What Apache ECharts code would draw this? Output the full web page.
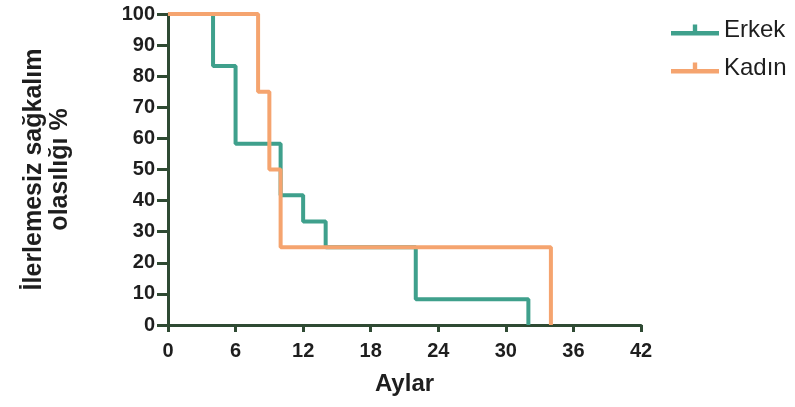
<!DOCTYPE html>
<html>
<head>
<meta charset="utf-8">
<script src="https://cdn.jsdelivr.net/npm/echarts@6/dist/echarts.min.js"></script>
<style>
  html, body { margin: 0; padding: 0; background: #fff; }
  #chart { width: 795px; height: 407px; }
</style>
</head>
<body>
<div id="chart"></div>
<script>
// Kaplan-Meier steps: [month, percent]
const erkek = [[0, 100], [4, 83.3], [6, 58.3], [10, 41.7], [12, 33.3], [14, 25], [22, 8.3], [32, 0]];
const kadin = [[0, 100], [8, 75], [9, 50], [10, 25], [34, 0]];
const seriesNames = ['Erkek', 'Kadın'];
const xTitle = 'Aylar';
const yTitle = 'İlerlemesiz sağkalım\nolasılığı %';

const axisColor = '#2f4a33';
const textColor = '#1e1e1e';
// legend icon: line with a small tick mark
const censorIcon = 'path://M0,6 H44 V10 H0 Z M20,0 H24 V10 H20 Z';

const chart = echarts.init(document.getElementById('chart'));
chart.setOption({
  animation: false,
  grid: { left: 168, right: 154, top: 14, bottom: 82, outerBoundsMode: 'none', containLabel: false },
  legend: {
    orient: 'vertical',
    left: 666,
    top: 13,
    itemGap: 14,
    itemWidth: 48,
    itemHeight: 11,
    textStyle: { fontFamily: 'Liberation Sans', fontSize: 24, color: textColor },
    data: [
      { name: seriesNames[0], icon: censorIcon },
      { name: seriesNames[1], icon: censorIcon }
    ]
  },
  xAxis: {
    type: 'value',
    min: 0, max: 42, interval: 6,
    name: xTitle,
    nameLocation: 'middle',
    nameGap: 47,
    nameTextStyle: { fontFamily: 'Liberation Sans', fontSize: 24, fontWeight: 'bold', color: textColor },
    axisLine: { show: true, lineStyle: { color: axisColor, width: 3 } },
    axisTick: { show: true, length: 7, lineStyle: { color: axisColor, width: 3 } },
    axisLabel: { margin: 16, fontFamily: 'Liberation Sans', fontSize: 20, fontWeight: 'bold', color: textColor },
    splitLine: { show: false }
  },
  yAxis: {
    type: 'value',
    min: 0, max: 100, interval: 10,
    name: yTitle,
    nameLocation: 'middle',
    nameGap: 95,
    nameRotate: 90,
    nameTextStyle: { fontFamily: 'Liberation Sans', fontSize: 25, fontWeight: 'bold', color: textColor, lineHeight: 26, align: 'center' },
    axisLine: { show: true, lineStyle: { color: axisColor, width: 3 } },
    axisTick: { show: true, length: 11, lineStyle: { color: axisColor, width: 3 } },
    axisLabel: { margin: 13, fontFamily: 'Liberation Sans', fontSize: 20, fontWeight: 'bold', color: textColor },
    splitLine: { show: false }
  },
  series: [
    {
      name: seriesNames[0],
      type: 'line',
      step: 'end',
      data: erkek,
      showSymbol: false,
      symbol: 'none',
      color: '#3fa08c',
      lineStyle: { width: 4, color: '#3fa08c' },
      z: 2
    },
    {
      name: seriesNames[1],
      type: 'line',
      step: 'end',
      data: kadin,
      showSymbol: false,
      symbol: 'none',
      color: '#f5a46f',
      lineStyle: { width: 4, color: '#f5a46f' },
      z: 3
    }
  ]
});
</script>
</body>
</html>
